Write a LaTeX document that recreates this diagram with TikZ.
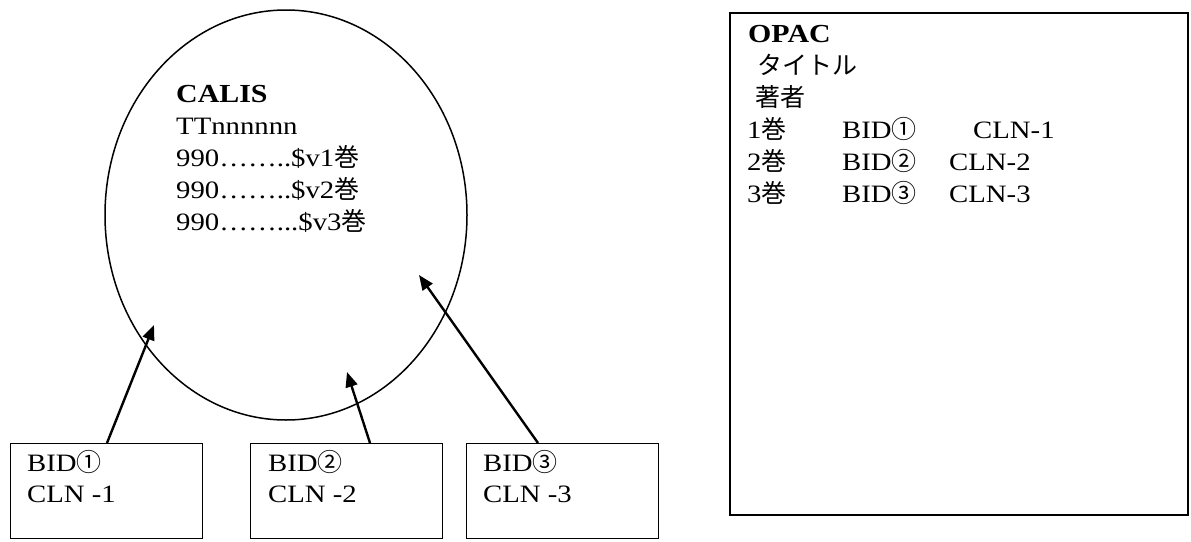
\documentclass[tikz,border=0pt]{standalone}
\usepackage{fontspec}
\setmainfont{Liberation Serif}[FakeStretch=1.15]
\newfontfamily\jp{Noto Sans CJK JP}
\usetikzlibrary{arrows.meta,shapes.geometric}
\begin{document}
\begin{tikzpicture}[x=1pt,y=-1pt,
  box/.style={draw,line width=1.3pt,minimum width=192pt,minimum height=95pt,anchor=north west,inner sep=0pt},
  txt/.style={anchor=base west,inner sep=0pt,font=\fontsize{25}{32}\selectfont},
  ttl/.style={anchor=base west,inner sep=0pt,font=\fontsize{26}{32}\selectfont\bfseries},
  arr/.style={line width=2.4pt,-{Triangle[length=15pt,width=12pt]}}]
\useasboundingbox (0,0) rectangle (1191,541);
% CALIS ellipse
\node[ellipse,draw,line width=1.5pt,minimum width=362pt,minimum height=410pt,inner sep=0pt] (calis) at (286,215) {};
\node[ttl] (calisT) at (176,102) {CALIS};
\node[txt] (tt) at (176,134) {TTnnnnnn};
\node[txt] (v1) at (176,166) {990……..\$v1{\jp 巻}};
\node[txt] (v2) at (176,198) {990……..\$v2{\jp 巻}};
\node[txt] (v3) at (176,230) {990……...\$v3{\jp 巻}};
% item boxes
\node[box] (b1) at (10,443) {};
\node[box] (b2) at (250,443) {};
\node[box] (b3) at (466,443) {};
\node[txt] (b1a) at (27,471) {BID{\jp ①}};
\node[txt] (b1b) at (27,502) {CLN -1};
\node[txt] (b2a) at (268,471) {BID{\jp ②}};
\node[txt] (b2b) at (268,502) {CLN -2};
\node[txt] (b3a) at (483,471) {BID{\jp ③}};
\node[txt] (b3b) at (483,502) {CLN -3};
% arrows
\coordinate (t1) at (107,443);
\coordinate (h1) at (154,325);
\coordinate (t2) at (370,443);
\coordinate (h2) at (347,372);
\coordinate (t3) at (538,443);
\coordinate (h3) at (419,275);
\draw[arr] (t1) -- (h1);
\draw[arr] (t2) -- (h2);
\draw[arr] (t3) -- (h3);
% OPAC box
\node[draw,line width=2pt,minimum width=458pt,minimum height=502pt,anchor=north west,inner sep=0pt] (opac) at (729,12) {};
\node[ttl] (opacT) at (748,42) {OPAC};
\node[txt] (title) at (757,74) {\jp タイトル};
\node[txt] (author) at (755,106) {\jp 著者};
\node[txt] (r1a) at (747,138) {1{\jp 巻}};
\node[txt] (r1b) at (842,138) {BID{\jp ①}};
\node[txt] (r1c) at (973,138) {CLN-1};
\node[txt] (r2a) at (747,170) {2{\jp 巻}};
\node[txt] (r2b) at (842,170) {BID{\jp ②}};
\node[txt] (r2c) at (949,170) {CLN-2};
\node[txt] (r3a) at (747,202) {3{\jp 巻}};
\node[txt] (r3b) at (842,202) {BID{\jp ③}};
\node[txt] (r3c) at (949,202) {CLN-3};
\end{tikzpicture}
\end{document}
